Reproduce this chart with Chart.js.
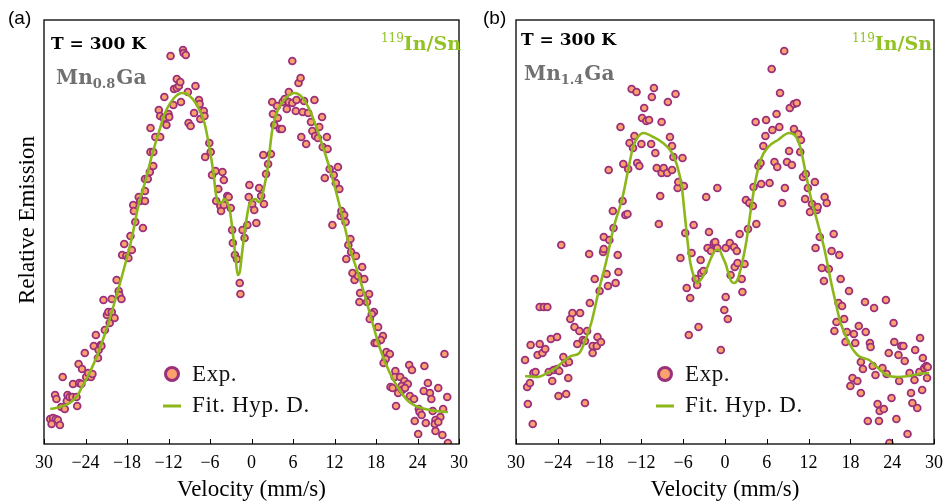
<!DOCTYPE html>
<html>
<head>
<meta charset="utf-8">
<script src="https://cdn.jsdelivr.net/npm/chart.js@4.4.1/dist/chart.umd.min.js"></script>
<style>
  body { margin: 0; background: #fff; }
  #wrap { position: relative; width: 951px; height: 504px; }
  canvas { position: absolute; top: 0; }
  #chartA { left: 0; }
  #chartB { left: 476px; }
</style>
</head>
<body>
<div id="wrap">
  <canvas id="chartA" width="476" height="504"></canvas>
  <canvas id="chartB" width="475" height="504"></canvas>
</div>
<script>
// velocity axis
var tickValues = [-30, -24, -18, -12, -6, 0, 6, 12, 18, 24, 30];
var tickLabels = ['30', '\u221224', '\u221218', '\u221212', '\u22126', '0', '6', '12', '18', '24', '30'];

// (a) Mn0.8Ga - measured emission
var velA = [-29.1, -28.7, -28.3, -28.9, -28.0, -27.7, -28.4, -28.2, -27.5, -27.0, -26.7, -26.6, -26.3, -25.9, -25.3, -25.2,
  -27.3, -25.8, -24.9, -24.6, -25.0, -24.5, -23.9, -23.6, -23.2, -23.0, -24.1, -22.8, -22.2, -22.1, -21.8, -21.7,
  -22.5, -21.2, -21.4, -20.9, -20.7, -20.5, -20.2, -19.8, -20.2, -19.5, -19.2, -19.1, -18.8, -18.7, -18.4, -18.1,
  -17.8, -17.3, -17.5, -16.8, -17.1, -17.0, -16.3, -16.1, -15.4, -15.7, -15.4, -15.4, -15.0, -14.7, -14.2, -14.6,
  -14.2, -14.6, -13.9, -13.2, -13.4, -13.2, -12.7, -12.3, -12.0, -11.9, -12.6, -11.7, -11.3, -11.2, -10.8, -10.5,
  -10.8, -10.3, -10.2, -9.9, -9.8, -9.5, -9.2, -9.1, -8.8, -8.3, -8.1, -7.6, -7.5, -7.4, -6.9, -6.8,
  -6.7, -6.1, -5.9, -5.7, -5.2, -4.2, -4.0, -4.8, -5.1, -4.5, -4.4, -4.0, -3.0, -3.5, -3.3, -2.8,
  -2.7, -2.4, -2.1, -1.7, -1.6, -1.3, -1.0, -0.6, -0.3, -0.4, 0.1, 0.4, 0.7, 1.1, 1.4, 1.8,
  1.7, 2.1, 2.4, 2.8, 3.0, 3.1, 3.3, 3.7, 3.8, 4.1, 4.4, 4.5, 4.8, 5.1, 5.4, 5.4,
  5.9, 5.9, 6.4, 6.5, 6.8, 7.1, 7.2, 7.4, 7.6, 7.9, 8.2, 8.6, 8.8, 9.1, 9.2, 9.6,
  9.8, 10.2, 10.3, 10.9, 11.0, 11.3, 12.5, 11.9, 10.6, 12.2, 12.7, 12.9, 13.0, 13.4, 13.6, 11.7,
  14.0, 14.3, 14.4, 15.1, 13.7, 16.0, 14.6, 14.9, 15.4, 16.3, 15.7, 17.0, 15.6, 16.7, 17.7, 17.4,
  17.1, 18.3, 19.0, 18.7, 17.8, 18.1, 19.5, 20.0, 19.4, 19.1, 27.9, 20.8, 22.8, 23.2, 25.0, 20.7,
  21.5, 22.1, 21.7, 22.6, 20.1, 20.4, 21.2, 21.8, 22.2, 25.5, 27.0, 24.9, 25.8, 26.0, 28.3, 22.9,
  23.5, 20.9, 24.2, 24.3, 24.6, 26.2, 27.7, 27.3, 26.6, 23.6, 25.2, 26.5, 27.0, 26.6, 27.6, 24.1, 28.4];
var emA = [25, 26, 25, 20, 24, 19, 49, 45, 37, 35, 43, 49, 47, 47, 47, 38,
  67, 60, 61, 60, 80, 75, 67, 71, 67, 70, 91, 98, 86, 94, 99, 98,
  109, 114, 144, 129, 132, 121, 132, 126, 145, 164, 153, 149, 145, 189, 200, 188,
  186, 194, 208, 222, 239, 233, 247, 243, 243, 216, 253, 265, 265, 272, 278, 292,
  292, 316, 307, 307, 334, 328, 326, 319, 330, 327, 347, 388, 339, 355, 356, 358,
  365, 362, 342, 394, 391, 389, 352, 321, 318, 331, 358, 344, 340, 325, 333, 328,
  287, 301, 292, 269, 273, 272, 264, 255, 243, 238, 233, 239, 236, 248, 247, 214,
  201, 189, 185, 161, 150, 214, 206, 219, 259, 247, 240, 234, 221, 256, 248, 240,
  289, 270, 280, 290, 342, 330, 319, 338, 326, 315, 315, 342, 345, 335, 352, 342,
  341, 383, 333, 344, 361, 366, 307, 332, 343, 300, 331, 322, 313, 344, 308, 306,
  317, 327, 297, 307, 295, 275, 277, 269, 266, 261, 255, 228, 233, 229, 222, 219,
  199, 205, 192, 188, 185, 177, 171, 164, 168, 165, 151, 150, 142, 142, 132, 130,
  125, 117, 108, 104, 101, 101, 92, 90, 85, 81, 90, 73, 79, 74, 78, 67,
  67, 63, 58, 60, 57, 56, 51, 54, 56, 61, 56, 53, 51, 45, 47, 48,
  45, 38, 35, 32, 29, 33, 35, 27, 24, 23, 21, 20, 22, 13, 9, 10, 1];

// (a) fitted hyperfine distribution
var fitVelA = [-29.1, -27.7, -26.3, -25.2, -24.5, -23.5, -22.4, -21.1, -19.7, -18.1, -17.3, -16.4, -15.3, -14.3, -13.3, -12.5,
  -11.2, -10.0, -9.1, -7.9, -6.8, -6.1, -5.5, -5.1, -4.7, -4.2, -4.0, -3.5, -3.1, -2.7, -2.3, -2.0,
  -1.7, -1.4, -1.1, -0.7, -0.3, 0.1, 0.6, 1.0, 1.4, 1.8, 2.3, 3.0, 3.8, 5.1, 6.2, 7.4,
  8.6, 10.0, 11.5, 12.9, 14.3, 15.4, 17.1, 18.5, 20.0, 21.4, 22.8, 24.6, 26.7, 28.4];
var fitA = [35, 37, 41, 48, 57, 70, 87, 112, 144, 184, 206, 237, 264, 291, 314, 331,
  346, 351, 349, 339, 321, 297, 271, 248, 241, 242, 245, 242, 232, 211, 186, 169,
  172, 189, 206, 226, 240, 244, 245, 242, 244, 256, 274, 314, 334, 347, 351, 346,
  331, 304, 271, 234, 194, 171, 131, 97, 71, 54, 42, 36, 33, 32];

// (b) Mn1.4Ga - measured emission
var velB = [-28.7, -28.4, -28.3, -28.0, -27.6, -27.9, -27.5, -27.2, -26.9, -26.6, -26.6, -26.2, -26.0, -25.8, -25.5, -25.3,
  -25.0, -24.8, -24.6, -24.1, -23.8, -24.1, -23.9, -23.5, -23.2, -22.9, -22.8, -22.5, -22.4, -22.2, -21.9, -21.6,
  -21.2, -20.9, -20.8, -20.4, -20.1, -20.1, -19.8, -19.5, -19.4, -19.0, -19.0, -18.7, -18.4, -18.3, -18.0, -17.8,
  -17.5, -17.4, -17.4, -17.0, -16.8, -16.7, -16.6, -16.1, -16.0, -15.7, -15.4, -15.3, -15.0, -14.7, -14.6, -14.3,
  -14.0, -13.9, -13.7, -13.4, -13.2, -13.0, -12.7, -12.6, -12.3, -12.0, -11.9, -11.6, -11.3, -10.9, -10.6, -10.5,
  -10.2, -10.0, -9.8, -9.5, -9.3, -9.1, -9.1, -8.8, -8.3, -8.2, -7.9, -7.6, -7.6, -7.4, -7.1, -6.8,
  -6.7, -6.4, -6.1, -5.9, -5.7, -5.5, -5.2, -5.0, -4.8, -4.5, -4.2, -4.0, -3.8, -3.5, -3.4, -3.1,
  -2.7, -2.5, -2.3, -2.0, -1.6, -1.4, -1.1, -1.1, -0.6, -0.1, 0.1, 0.4, 0.1, 0.7, 0.8, 1.3,
  1.4, 1.7, 1.8, 2.1, 2.4, 2.5, 2.8, 3.0, 3.3, 3.5, 4.0, 4.1, 4.5, 4.4, 4.8, 5.1,
  5.2, 5.5, 5.8, 5.9, 6.4, 6.7, 6.8, 7.1, 7.4, 7.5, 7.8, 7.9, 8.2, 8.5, 8.6, 8.9,
  9.2, 9.3, 9.6, 9.9, 9.9, 10.3, 10.5, 10.8, 10.9, 11.2, 11.5, 11.6, 11.9, 12.2, 12.5, 12.9,
  13.0, 13.2, 13.3, 13.6, 13.9, 14.2, 14.3, 14.6, 14.9, 15.3, 15.6, 15.7, 16.0, 16.3, 16.4, 16.6,
  16.8, 17.1, 17.3, 17.5, 17.8, 18.0, 18.3, 18.5, 18.7, 19.0, 19.2, 19.5, 19.5, 19.8, 20.1, 20.2,
  20.5, 20.8, 20.9, 21.2, 21.4, 21.6, 21.9, 22.1, 22.2, 22.6, 22.8, 23.1, 23.2, 23.5, 23.6, 23.9,
  24.2, 24.3, 24.6, 24.9, 25.0, 25.3, 25.6, 25.8, 26.2, 26.5, 26.7, 26.9, 27.2, 27.3, 27.6, 27.9,
  28.0, 28.3, 28.4, 28.6, 28.9, 29.0, 29.1];
var emB = [84, 57, 40, 61, 20, 99, 71, 72, 89, 100, 137, 91, 137, 95, 137, 72,
  105, 63, 74, 75, 73, 107, 48, 199, 87, 81, 50, 66, 82, 125, 131, 117,
  100, 113, 131, 104, 103, 41, 113, 190, 141, 98, 91, 165, 98, 107, 153, 102,
  192, 207, 195, 170, 158, 274, 204, 233, 216, 161, 189, 172, 317, 243, 280, 229,
  230, 275, 301, 355, 296, 308, 352, 281, 278, 300, 326, 336, 323, 324, 300, 347,
  356, 291, 276, 220, 248, 322, 271, 276, 271, 342, 307, 298, 274, 287, 350, 256,
  262, 186, 286, 258, 211, 156, 109, 146, 191, 219, 165, 159, 117, 184, 171, 173,
  247, 196, 212, 193, 201, 202, 256, 196, 94, 134, 147, 125, 196, 201, 169, 197,
  177, 193, 181, 210, 165, 152, 180, 244, 215, 241, 238, 257, 220, 322, 278, 281,
  260, 298, 308, 324, 261, 375, 314, 282, 330, 277, 317, 351, 241, 393, 256, 282,
  293, 336, 279, 340, 315, 341, 310, 292, 304, 267, 245, 270, 256, 232, 240, 262,
  196, 234, 237, 207, 176, 163, 247, 241, 175, 193, 210, 113, 122, 141, 189, 165,
  138, 125, 102, 112, 153, 58, 66, 110, 101, 63, 118, 82, 51, 75, 142, 112,
  23, 101, 97, 78, 136, 69, 40, 23, 33, 76, 35, 144, 70, 91, 1, 46,
  121, 102, 25, 89, 63, 98, 98, 83, 10, 71, 51, 41, 64, 94, 36, 72,
  106, 54, 86, 76, 78, 66, 77];

// (b) fitted hyperfine distribution
var fitVelB = [-28.7, -26.9, -25.5, -24.3, -23.3, -22.1, -20.9, -20.2, -19.2, -18.1, -17.0, -16.0, -14.7, -13.9, -13.2, -12.5,
  -11.7, -10.3, -8.9, -7.6, -6.9, -6.2, -5.8, -5.4, -5.0, -4.4, -4.0, -3.4, -2.7, -2.0, -1.3, -0.8,
  -0.4, 0.1, 0.8, 1.3, 1.7, 2.1, 2.7, 3.1, 3.7, 4.4, 5.1, 6.2, 7.6, 9.2, 10.0, 10.8,
  11.5, 12.3, 13.3, 14.3, 15.1, 15.7, 16.6, 17.8, 19.0, 19.8, 20.7, 21.8, 23.2, 24.9, 26.3, 27.9, 29.3];
var fitB = [68, 67, 71, 76, 82, 88, 91, 101, 121, 154, 184, 216, 247, 274, 297, 307,
  311, 307, 301, 291, 279, 257, 231, 204, 182, 166, 161, 165, 174, 186, 194, 194,
  188, 180, 164, 161, 163, 171, 189, 204, 234, 264, 284, 297, 304, 311, 309, 297,
  274, 247, 221, 194, 166, 147, 121, 101, 89, 86, 84, 77, 69, 67, 68, 70, 71];

var FIT_GREEN = '#8cb71a';
var MARK_FILL = '#f9a26e';
var MARK_EDGE = '#9c2f7b';

function pairs(xs, ys) {
  return xs.map(function (x, i) { return { x: x, y: ys[i] }; });
}

// frame, inward ticks, labels and the in-plot legend
var decor = {
  id: 'decor',
  afterDraw: function (chart, args, o) {
    var ctx = chart.ctx, a = chart.chartArea, xs = chart.scales.x;
    ctx.save();
    ctx.strokeStyle = '#000';
    ctx.lineWidth = 1.3;
    ctx.strokeRect(a.left, a.top, a.right - a.left, a.bottom - a.top);
    ctx.lineWidth = 1;
    xs.ticks.forEach(function (t) {
      var px = Math.round(xs.getPixelForValue(t.value)) + 0.5;
      ctx.beginPath();
      ctx.moveTo(px, a.bottom);
      ctx.lineTo(px, a.bottom - 5);
      ctx.stroke();
    });

    ctx.textAlign = 'left';

    // panel tag
    ctx.fillStyle = '#000';
    ctx.font = '19px "Liberation Sans"';
    ctx.textBaseline = 'middle';
    ctx.fillText(o.tag, o.tagX, 19);
    ctx.textBaseline = 'alphabetic';

    // temperature
    ctx.font = 'bold 17px "DejaVu Serif"';
    ctx.fillText('T = 300 K', o.tempX, o.tempY);

    // source isotope, right aligned
    ctx.fillStyle = '#93c224';
    ctx.font = 'bold 19px "DejaVu Serif"';
    var main = 'In/Sn';
    var wMain = ctx.measureText(main).width;
    ctx.font = '12px "DejaVu Serif"';
    var wSup = ctx.measureText('119').width;
    var sx = o.srcRight - wMain - wSup;
    ctx.fillText('119', sx, 42);
    ctx.font = 'bold 19px "DejaVu Serif"';
    ctx.fillText(main, sx + wSup, 50);

    // sample formula with subscript
    ctx.fillStyle = '#707070';
    ctx.font = 'bold 20px "DejaVu Serif"';
    var x = o.sampleX;
    ctx.fillText('Mn', x, o.sampleY);
    x += ctx.measureText('Mn').width;
    ctx.font = 'bold 13px "DejaVu Serif"';
    ctx.fillText(o.sub, x, o.sampleY + 4);
    x += ctx.measureText(o.sub).width + 1;
    ctx.font = 'bold 20px "DejaVu Serif"';
    ctx.fillText('Ga', x, o.sampleY);

    // y title
    if (o.yTitle) {
      ctx.save();
      ctx.translate(28, 220);
      ctx.rotate(-Math.PI / 2);
      ctx.fillStyle = '#000';
      ctx.font = '23px "Liberation Serif"';
      ctx.textAlign = 'center';
      ctx.textBaseline = 'middle';
      ctx.fillText(o.yTitle, 0, 0);
      ctx.restore();
    }

    // legend
    var exp = chart.data.datasets[1], fit = chart.data.datasets[0];
    var lx = o.legendX;
    ctx.beginPath();
    ctx.arc(lx, 374, 6.5, 0, Math.PI * 2);
    ctx.fillStyle = exp.backgroundColor;
    ctx.fill();
    ctx.lineWidth = 3;
    ctx.strokeStyle = exp.borderColor;
    ctx.stroke();
    ctx.beginPath();
    ctx.moveTo(lx - 9, 406);
    ctx.lineTo(lx + 9, 406);
    ctx.lineWidth = 3;
    ctx.strokeStyle = fit.borderColor;
    ctx.stroke();
    ctx.fillStyle = '#111';
    ctx.font = '23px "Liberation Serif"';
    ctx.letterSpacing = '0.6px';
    ctx.textBaseline = 'middle';
    ctx.fillText(exp.label, lx + 20, 375);
    ctx.fillText(fit.label, lx + 20, 406);
    ctx.restore();
  }
};

function makePanel(id, vel, em, fitVel, fit, deco) {
  return new Chart(document.getElementById(id), {
    type: 'scatter',
    data: {
      datasets: [{
        label: 'Fit. Hyp. D.',
        data: pairs(fitVel, fit),
        showLine: true,
        borderColor: FIT_GREEN,
        borderWidth: 2.6,
        pointRadius: 0,
        cubicInterpolationMode: 'monotone',
        order: 1
      }, {
        label: 'Exp.',
        data: pairs(vel, em),
        backgroundColor: MARK_FILL,
        borderColor: MARK_EDGE,
        pointRadius: 3.4,
        pointBorderWidth: 1.8,
        clip: 0,
        order: 2
      }]
    },
    options: {
      responsive: false,
      animation: false,
      layout: { padding: { top: 20, right: deco.padRight, left: 0, bottom: 0 } },
      plugins: {
        legend: { display: false },
        tooltip: { enabled: false },
        decor: deco
      },
      scales: {
        x: {
          type: 'linear',
          min: -30,
          max: 30,
          afterBuildTicks: function (s) { s.ticks = tickValues.map(function (v) { return { value: v }; }); },
          afterFit: function (s) { s.height = 60; },
          grid: { display: false, drawTicks: false },
          border: { display: false },
          ticks: {
            padding: 8,
            autoSkip: false,
            maxRotation: 0,
            color: '#000',
            font: { family: 'Liberation Serif', size: 18 },
            callback: function (v, i) { return tickLabels[i]; }
          },
          title: {
            display: true,
            text: 'Velocity (mm/s)',
            color: '#000',
            font: { family: 'Liberation Serif', size: 23 },
            padding: 0
          }
        },
        y: {
          type: 'linear',
          min: 0,
          max: 424,
          afterFit: function (s) { s.width = deco.yWidth; },
          grid: { display: false, drawTicks: false },
          border: { display: false },
          ticks: { display: false }
        }
      }
    },
    plugins: [decor]
  });
}

makePanel('chartA', velA, emA, fitVelA, fitA, {
  tag: '(a)', tagX: 8, tempX: 51, tempY: 49, srcRight: 461,
  sub: '0.8', sampleX: 56, sampleY: 84, legendX: 172,
  yTitle: 'Relative Emission', yWidth: 44, padRight: 8
});
makePanel('chartB', velB, emB, fitVelB, fitB, {
  tag: '(b)', tagX: 7, tempX: 45, tempY: 45, srcRight: 456,
  sub: '1.4', sampleX: 48, sampleY: 80, legendX: 189,
  yTitle: null, yWidth: 40, padRight: 11
});
</script>
</body>
</html>
